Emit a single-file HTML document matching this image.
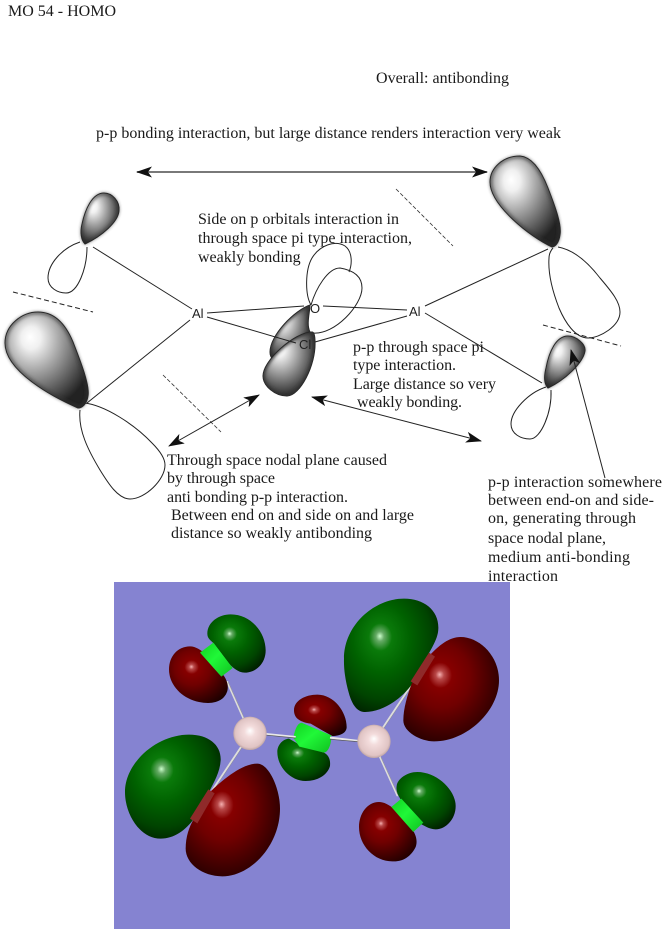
<!DOCTYPE html>
<html><head><meta charset="utf-8"><style>
html,body{margin:0;padding:0;background:#fff}
svg{display:block}
text{font-family:"Liberation Serif",serif;font-size:16px;fill:#1a1a1a}
.a{font-family:"Liberation Sans",sans-serif;font-size:13px;fill:#222}
</style></head><body>
<svg width="666" height="931" viewBox="0 0 666 931" xmlns="http://www.w3.org/2000/svg">
<defs>
<radialGradient id="g1" cx=".38" cy=".33" r=".78" fx=".3" fy=".26"><stop offset="0" stop-color="#fff"/><stop offset=".15" stop-color="#f0f0f0"/><stop offset=".4" stop-color="#aaa"/><stop offset=".65" stop-color="#666"/><stop offset=".9" stop-color="#222"/></radialGradient>
<radialGradient id="gr" cx=".42" cy=".38" r=".72" fx=".38" fy=".33"><stop offset="0" stop-color="#cfc"/><stop offset=".06" stop-color="#6a6"/><stop offset=".17" stop-color="#0a7a0a"/><stop offset=".42" stop-color="#006200"/><stop offset=".72" stop-color="#004400"/><stop offset="1" stop-color="#001800"/></radialGradient>
<radialGradient id="rd" cx=".42" cy=".4" r=".72" fx=".38" fy=".36"><stop offset="0" stop-color="#f5b0b0"/><stop offset=".06" stop-color="#b84848"/><stop offset=".17" stop-color="#860000"/><stop offset=".42" stop-color="#700000"/><stop offset=".72" stop-color="#420000"/><stop offset="1" stop-color="#180000"/></radialGradient>
<linearGradient id="br" x1="0" y1="0" x2="1" y2="1"><stop offset="0" stop-color="#10d020"/><stop offset=".45" stop-color="#20f838"/><stop offset="1" stop-color="#10c020"/></linearGradient>
<radialGradient id="at" cx=".5" cy=".5" r=".55" fx=".5" fy=".42"><stop offset="0" stop-color="#fff"/><stop offset=".3" stop-color="#f3dcdc"/><stop offset=".8" stop-color="#e0c4c4"/><stop offset="1" stop-color="#a89090"/></radialGradient>
<marker id="m" markerWidth="17" markerHeight="13" refX="15" refY="5.500" orient="auto-start-reverse" markerUnits="userSpaceOnUse"><path d="M0,0 L16,5.500 L0,11 L4,5.500 Z" fill="#111"/></marker>
<filter id="b" x="-30%" y="-30%" width="160%" height="160%"><feGaussianBlur stdDeviation="1.600"/></filter>
<path id="L1" d="M85,244 C81,240 80,232 82,224 C85,210 92,193 104,193 C112,193 120,201 119,211 C118,222 102,236 85,244Z"/>
<path id="L2" d="M78,408 C55,398 5,372 5,343 C5,325 22,312 38,312 C55,312 66,325 73,342 C80,360 90,385 88,396 C87,404 82,408 78,408Z"/>
<path id="L3" d="M552,247 C530,237 490,205 490,182 C490,168 503,156 520,156 C532,157 541,170 548,188 C555,206 562,225 560,235 C559,243 555,247 552,247Z"/>
<path id="L4" d="M548,388 C544,384 544,376 546,368 C549,352 556,336 568,336 C576,336 586,344 585,351 C583,363 565,380 548,388Z"/>
<path id="L5" d="M310,305 C295,310 270,335 270,352 C270,357 272,358 274,361 L310,332 C306,324 310,312 310,305Z"/>
<path id="L6" d="M312,332 C295,332 263,360 263,376 C263,386 275,396 287,396 C300,396 316,365 315,342 C315,336 314,332 312,332Z"/>
<clipPath id="c1"><use href="#L1"/></clipPath>
<clipPath id="c2"><use href="#L2"/></clipPath>
<clipPath id="c3"><use href="#L3"/></clipPath>
<clipPath id="c4"><use href="#L4"/></clipPath>
<clipPath id="c5"><use href="#L5"/></clipPath>
<clipPath id="c6"><use href="#L6"/></clipPath>
</defs>

<text x="8" y="16" textLength="108">MO 54 - HOMO</text>
<text x="376" y="83" textLength="133">Overall: antibonding</text>
<text x="96" y="138" textLength="465">p-p bonding interaction, but large distance renders interaction very weak</text>

<g fill="none" stroke="#222" stroke-width="1">
<path d="M80,242 C62,248 48,264 48,278 C48,288 58,293 66,293 C78,293 87,268 87,247"/>
<path d="M84,403 C105,405 135,425 152,443 C162,453 165,460 165,465 C165,480 145,499 130,499 C118,499 108,483 100,470 C88,450 78,430 80,410"/>
<path d="M558,247 C575,250 590,265 600,278 C612,292 620,302 620,312 C620,326 600,338 588,338 C575,338 565,322 559,308 C552,290 548,272 549,258 C549,254 551,250 553,248"/>
<path d="M546,387 C528,393 511,411 511,424 C511,434 521,439 530,439 C541,439 552,412 551,390"/>
<path d="M311,305 C305,295 305,270 312,258 C320,245 335,240 345,246 C353,252 352,265 349,272"/>
<path d="M311,305 C316,288 328,268 340,268 C352,270 362,275 362,288 C362,305 335,335 313,333"/>
<path d="M93,247 L192,309 M190,320 L87,403 M207,313 L304,306 M323,306 L407,310 M315,342 L407,316 M425,306 L548,249 M425,313 L542,383"/>
</g>

<g>
<g fill="url(#g1)" stroke="#222" stroke-width="1">
<use href="#L1"/><use href="#L2"/><use href="#L3"/><use href="#L4"/>
</g>
<g fill="none" stroke="#333" stroke-width="3.500" filter="url(#b)">
<g clip-path="url(#c1)"><use href="#L1"/></g>
<g clip-path="url(#c2)"><use href="#L2"/></g>
<g clip-path="url(#c3)"><use href="#L3"/></g>
<g clip-path="url(#c4)"><use href="#L4"/></g>
</g>
<use href="#L5" fill="url(#g1)" stroke="#222"/>
<g clip-path="url(#c5)"><use href="#L5" fill="none" stroke="#333" stroke-width="3" filter="url(#b)"/></g>
<use href="#L6" fill="url(#g1)" stroke="#222"/>
<g clip-path="url(#c6)"><use href="#L6" fill="none" stroke="#333" stroke-width="3.500" filter="url(#b)"/></g>
</g>
<path d="M207,317 L296,343" fill="none" stroke="#222"/>

<text class="a" x="192" y="318">Al</text>
<text class="a" x="409" y="316">Al</text>
<text class="a" x="299" y="349">Cl</text>
<text class="a" x="310" y="313">O</text>

<g fill="none" stroke="#222" stroke-width="1" stroke-dasharray="5 3">
<path d="M13,292 L93,312"/><path d="M543,325 L621,346"/>
</g>
<g fill="none" stroke="#333" stroke-width=".8" stroke-dasharray="4 2">
<path d="M163,375 L221,432"/><path d="M396,189 L453,246"/>
</g>

<path d="M137,172 L487,172" stroke="#666" stroke-width="1.800" fill="none" marker-start="url(#m)" marker-end="url(#m)"/>
<path d="M169,446 L259,395" stroke="#222" stroke-width="1" fill="none" marker-start="url(#m)" marker-end="url(#m)"/>
<path d="M312,397 L481,441" stroke="#222" stroke-width="1" fill="none" marker-start="url(#m)" marker-end="url(#m)"/>
<path d="M605,478 L571,350" stroke="#222" stroke-width="1" fill="none" marker-end="url(#m)"/>

<text x="198" y="224" textLength="201">Side on p orbitals interaction in</text>
<text x="198" y="243" textLength="214">through space pi type interaction,</text>
<text x="198" y="262">weakly bonding</text>
<text x="353" y="352" textLength="131">p-p through space pi</text>
<text x="353" y="370" textLength="103">type interaction.</text>
<text x="353" y="389" textLength="143">Large distance so very</text>
<text x="357" y="407" textLength="105">weakly bonding.</text>
<text x="167" y="465" textLength="220">Through space nodal plane caused</text>
<text x="167" y="483" textLength="108">by through space</text>
<text x="167" y="502" textLength="181">anti bonding p-p interaction.</text>
<text x="171" y="520" textLength="243">Between end on and side on and large</text>
<text x="171" y="538" textLength="201">distance so weakly antibonding</text>
<text x="488" y="487" textLength="174">p-p interaction somewhere</text>
<text x="488" y="505" textLength="166">between end-on and side-</text>
<text x="488" y="523" textLength="148">on, generating through</text>
<text x="488" y="543" textLength="118">space nodal plane,</text>
<text x="488" y="562" textLength="142">medium anti-bonding</text>

<rect x="114" y="582" width="396" height="347" fill="#8583d1"/>
<text x="488" y="581" textLength="70">interaction</text>

<g transform="translate(114,582) scale(.33333)">
<g fill="none" stroke-linecap="round">
<path d="M340,300 L388,408 M380,497 L295,625 M805,440 L895,305 M798,525 L850,640" stroke="#ddd" stroke-width="6"/>
<path d="M340,300 L388,408 M380,497 L295,625 M805,440 L895,305 M798,525 L850,640" stroke="#888" stroke-width="1.500" transform="translate(3,1)"/>
</g>
<path fill="url(#gr)" d="M690,230 C690,130 780,50 870,50 C930,50 975,85 973,140 C972,180 940,215 895,305 C860,355 800,392 750,390 C725,388 712,360 705,335 C695,300 689,265 690,230Z"/>
<path fill="url(#rd)" d="M893,305 C880,340 868,380 868,415 C868,450 920,478 960,478 C1060,478 1155,385 1155,295 C1155,220 1095,165 1040,165 C1005,165 975,190 945,222Z"/>
<path fill="#8f2a2a" d="M945,212 L963,224 L910,310 L890,298Z"/>
<path fill="url(#gr)" d="M280,155 C280,120 315,97 350,97 C410,97 455,150 455,205 C455,245 425,272 392,272 C372,272 355,255 345,245 L300,185 C290,175 280,170 280,155Z"/>
<path fill="url(#rd)" d="M165,262 C165,222 192,193 228,193 C262,193 300,240 330,282 C345,305 347,330 325,350 C305,365 280,365 255,360 C205,350 165,310 165,262Z"/>
<path fill="url(#br)" d="M258,212 L298,182 L356,258 L322,284Z"/>
<path fill="url(#gr)" d="M33,630 C33,540 130,458 225,458 C285,458 322,490 320,535 C318,570 300,600 285,630 L240,710 C215,745 180,770 140,770 C80,770 33,700 33,630Z"/>
<path fill="url(#rd)" d="M430,545 C465,545 498,620 498,680 C498,790 410,883 325,883 C265,883 215,845 215,800 C215,765 225,735 240,710 L290,628 C330,590 385,545 430,545Z"/>
<path fill="#8f2a2a" d="M283,622 L302,634 L250,724 L228,710Z"/>
<path fill="url(#rd)" d="M540,385 C540,355 575,338 610,338 C660,338 698,390 698,435 C698,452 680,462 655,462 L625,445 L590,425 C560,420 540,410 540,385Z"/>
<path fill="url(#gr)" d="M490,510 C490,490 505,472 525,470 L560,490 L630,512 C645,520 650,535 648,552 C640,580 610,597 575,597 C530,597 490,555 490,510Z"/>
<path fill="url(#br)" d="M538,468 C543,438 553,420 565,423 L652,460 C652,490 642,510 630,512 L556,494Z"/>
<path fill="url(#gr)" d="M848,612 C850,590 880,570 910,570 C970,570 1025,625 1025,672 C1025,712 995,742 965,742 C945,742 930,730 918,725 L865,660 C855,645 845,630 848,612Z"/>
<path fill="url(#rd)" d="M735,735 C735,695 760,660 795,660 C825,660 860,695 890,735 C905,755 912,775 905,795 C890,825 865,840 835,838 C780,838 735,790 735,735Z"/>
<path fill="url(#br)" d="M832,675 L862,650 L928,722 L898,750Z"/>
<path d="M445,455 L545,465 M648,467 L745,478" stroke="#e8e8e8" stroke-width="6" fill="none"/>
<path d="M445,458 L545,468 M648,472 L745,480" stroke="#555" stroke-width="2" fill="none"/>
<circle cx="408" cy="454" r="50" fill="url(#at)"/>
<circle cx="780" cy="478" r="50" fill="url(#at)"/>
</g>
</svg>
</body></html>
